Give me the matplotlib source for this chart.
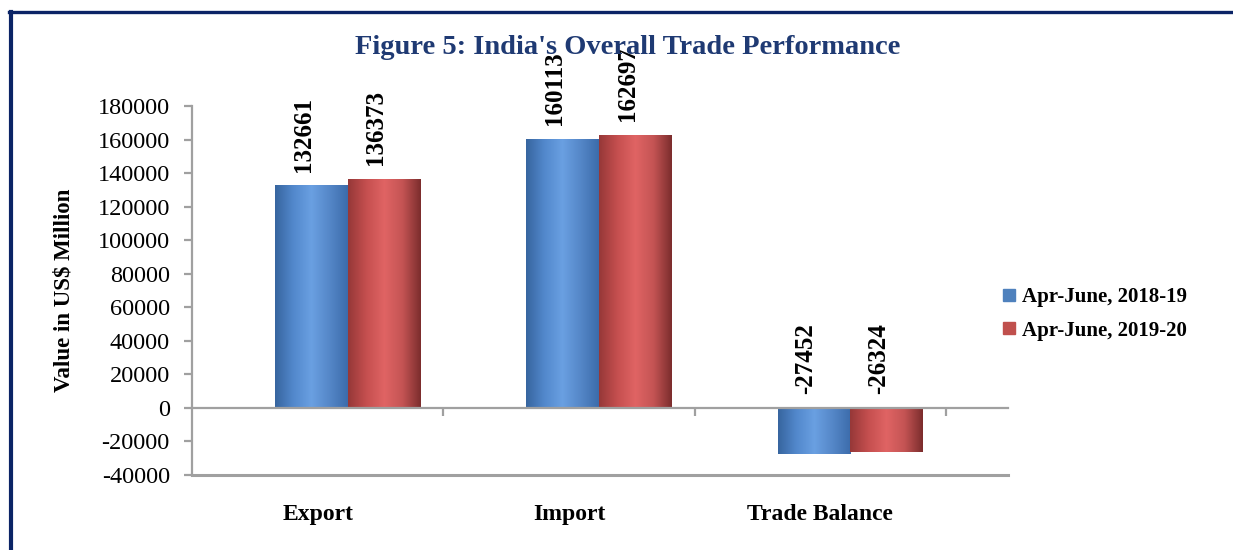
import matplotlib
matplotlib.use("Agg")
import matplotlib.pyplot as plt
import numpy as np
from matplotlib.colors import LinearSegmentedColormap
from matplotlib.lines import Line2D

categorias = ["Export", "Import", "Trade Balance"]
serie_2018 = [132661, 160113, -27452]
serie_2019 = [136373, 162697, -26324]
legendas = ["Apr-June, 2018-19", "Apr-June, 2019-20"]
yticks = list(range(-40000, 180001, 20000))

plt.rcParams["font.family"] = ["Liberation Serif", "DejaVu Serif"]

fig = plt.figure(figsize=(12.33, 5.5), dpi=100)
ax = fig.add_axes([192 / 1233, 75 / 550, 816 / 1233, 369 / 550])

# moldura azul-marinho (esquerda e topo)
navy = "#0b2466"
fig.add_artist(Line2D([10.5 / 1233, 10.5 / 1233], [0, 1 - 12 / 550], transform=fig.transFigure, color=navy, lw=3))
fig.add_artist(Line2D([9 / 1233, 1], [1 - 12 / 550, 1 - 12 / 550], transform=fig.transFigure, color=navy, lw=2.4))

x = np.arange(len(categorias))
largura = 0.29
desloc = 0.12  # barras ligeiramente à direita (efeito 3D do Excel)

cmap_azul = LinearSegmentedColormap.from_list("azul", ["#37659f", "#5288cc", "#6aa0e2", "#5587c8", "#3c6cab"])
cmap_verm = LinearSegmentedColormap.from_list("verm", ["#963838", "#c54f4f", "#e06464", "#c45454", "#7c2d2d"])
grad = np.linspace(0, 1, 128).reshape(1, -1)

barras_a = ax.bar(x + desloc - largura / 2, serie_2018, largura, color="none", edgecolor="none")
barras_b = ax.bar(x + desloc + largura / 2, serie_2019, largura, color="none", edgecolor="none")

for barras, cmap in ((barras_a, cmap_azul), (barras_b, cmap_verm)):
    for p in barras:
        x0, y0 = p.get_x(), p.get_y()
        w, h = p.get_width(), p.get_height()
        im = ax.imshow(grad, cmap=cmap, aspect="auto", extent=[x0, x0 + w, y0, y0 + h],
                       origin="lower", zorder=2, interpolation="bicubic")
        im.set_clip_path(p)

for barras, vals in ((barras_a, serie_2018), (barras_b, serie_2019)):
    for p, v in zip(barras, vals):
        base = max(v, 0)
        ax.annotate(str(v), (p.get_x() + p.get_width() / 2, base), xytext=(-6, 10),
                    textcoords="offset points", rotation=90, ha="center", va="bottom",
                    fontsize=18, fontweight="bold")

ax.set_xlim(-0.5, 2.5 + 62 / 251)
ax.set_ylim(-40000, 180000)
ax.set_yticks(yticks)
ax.set_yticklabels([str(v) for v in yticks], fontsize=17.5)

cinza = "#a0a0a0"
for s in ("top", "right"):
    ax.spines[s].set_visible(False)
ax.spines["left"].set_color(cinza)
ax.spines["left"].set_linewidth(1.6)
ax.spines["bottom"].set_position(("data", 0))
ax.spines["bottom"].set_color(cinza)
ax.spines["bottom"].set_linewidth(1.6)
ax.axhline(-40000, color=cinza, lw=2.2, clip_on=False)

ax.set_xticks([0.5, 1.5, 2.5])
ax.set_xticklabels([])
ax.tick_params(axis="x", direction="out", length=6, width=1.6, color=cinza)
ax.tick_params(axis="y", direction="out", length=6, width=1.6, color=cinza, pad=10)

for xi, nome in zip(x, categorias):
    ax.text(xi, -0.106, nome, transform=ax.get_xaxis_transform(), ha="center", va="center",
            fontsize=17, fontweight="bold")

ax.set_ylabel("Value in US$ Million", fontsize=16.5, fontweight="bold")
ax.yaxis.set_label_coords(-0.144, 0.5)

fig.text(628 / 1233, 1 - 48 / 550, "Figure 5: India's Overall Trade Performance", ha="center", va="center",
         fontsize=20.5, fontweight="bold", color="#1f3a73")

handles = [Line2D([], [], marker="s", ls="none", color="#4f81bd", markersize=8),
           Line2D([], [], marker="s", ls="none", color="#c0504d", markersize=8)]
fig.legend(handles, legendas, loc="center left", bbox_to_anchor=(1003 / 1233, 1 - 314 / 550),
           frameon=False, prop={"size": 15, "weight": "bold"}, handlelength=0.6,
           handletextpad=0.3, labelspacing=0.65, borderpad=0, borderaxespad=0)

fig.savefig("out.png", dpi=100)
